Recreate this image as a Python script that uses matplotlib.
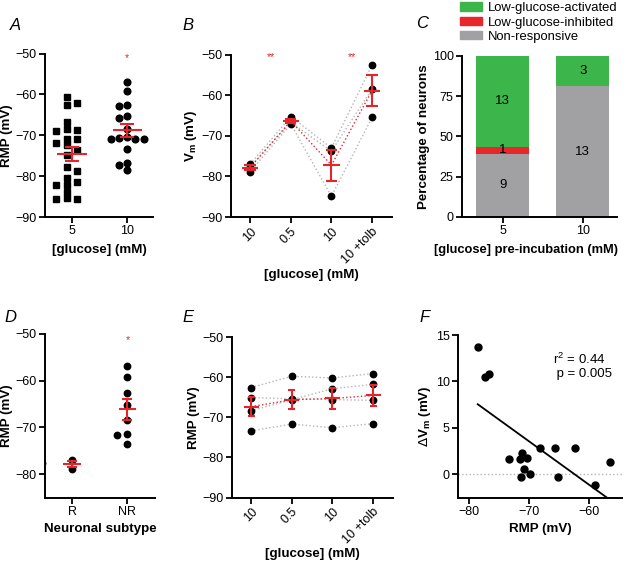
import numpy as np
import matplotlib
matplotlib.use("Agg")
import matplotlib.pyplot as plt
from matplotlib.patches import Patch

plt.rcParams['font.family'] = ['Liberation Sans', 'DejaVu Sans']
plt.rcParams['axes.linewidth'] = 1.4
plt.rcParams['xtick.major.width'] = 1.3
plt.rcParams['ytick.major.width'] = 1.3
plt.rcParams['xtick.major.size'] = 4
plt.rcParams['ytick.major.size'] = 4
plt.rcParams['xtick.labelsize'] = 9
plt.rcParams['ytick.labelsize'] = 9
plt.rcParams['axes.unicode_minus'] = True

RED = '#e4262c'
GRAY_LINE = '#b5b5b5'

# ---------------- data ----------------
# Panel A
a_categories = ['5', '10']
a_5mM = [-69.0, -72.0, -83.9, -85.5,
         -62.0, -68.6, -70.8, -78.7, -80.4, -82.1,
         -60.6, -62.7, -68.4, -70.8, -77.8, -82.1, -85.5,
         -66.8, -72.5, -81.4, -85.4, -73.6, -74.8]
a_10mM = [-56.9, -59.2, -62.9, -62.6, -65.3, -65.9, -68.4, -70.4,
          -71.0, -71.0, -71.0, -70.6, -73.4, -77.3, -76.9, -78.6]

# Panel B
b_conditions = ['10', '0.5', '10', '10 +tolb']
b_neuron1 = [-77.0, -65.3, -73.0, -52.6]
b_neuron2 = [-77.6, -66.7, -73.8, -58.5]
b_neuron3 = [-78.9, -67.1, -84.9, -65.5]

# Panel C
c_categories = ['5', '10']
c_nonresponsive = [9, 13]
c_inhibited = [1, 0]
c_activated = [13, 3]

# Panel D
d_categories = ['R', 'NR']
d_R = [-77.0, -77.6, -78.9]
d_NR = [-56.8, -59.2, -62.7, -65.3, -68.5, -71.7, -71.4, -73.5]

# Panel E
e_conditions = ['10', '0.5', '10', '10 +tolb']
e_neuron1 = [-62.6, -59.8, -60.2, -59.1]
e_neuron2 = [-65.1, -65.4, -65.6, -65.8]
e_neuron3 = [-68.4, -65.6, -62.9, -61.8]
e_neuron4 = [-73.4, -71.7, -72.6, -71.6]

# Panel F
f_rmp = [-78.6, -77.4, -76.7, -73.3, -71.2, -71.5, -70.3, -70.8,
         -71.3, -69.8, -68.2, -65.6, -65.1, -62.4, -58.9, -56.4]
f_dvm = [13.66, 10.5, 10.8, 1.65, 2.27, 1.62, 1.8, 0.6,
         -0.29, 0.0, 2.8, 2.8, -0.29, 2.8, -1.15, 1.33]


# ---------------- helpers ----------------
def sem(v):
    v = np.asarray(v, float)
    return v.std(ddof=1) / np.sqrt(len(v))


def swarm(values, center, step, dmin, half=False):
    vals = np.asarray(values, float)
    order = np.argsort(-vals)
    if half:
        cands = [s * (k + 0.5) for k in range(6) for s in (-1, 1)]
    else:
        cands = [0.0] + [s * k for k in range(1, 6) for s in (-1, 1)]
    placed = {}
    xs = np.zeros(len(vals))
    for i in order:
        for c in cands:
            col = placed.setdefault(c, [])
            if all(abs(vals[i] - y) >= dmin for y in col):
                col.append(vals[i])
                xs[i] = center + c * step
                break
    return xs


def mean_sem(ax, x, vals, wmean, wcap, lw=1.5, z=5):
    m = np.mean(vals)
    s = sem(vals)
    ax.hlines(m, x - wmean / 2, x + wmean / 2, color=RED, lw=lw, zorder=z)
    ax.vlines(x, m - s, m + s, color=RED, lw=lw, zorder=z)
    ax.hlines([m - s, m + s], x - wcap / 2, x + wcap / 2, color=RED, lw=lw, zorder=z)
    return m


def style(ax):
    for sp in ('top', 'right'):
        ax.spines[sp].set_visible(False)
    ax.tick_params(direction='out', pad=2)


W, H = 632, 561
fig = plt.figure(figsize=(W / 100, H / 100), dpi=100)


def add_ax(l, r, t, b):
    return fig.add_axes([l / W, 1 - b / H, (r - l) / W, (b - t) / H])


LBL = dict(fontsize=9.6, fontweight='bold')

# ---------------- Panel A ----------------
axA = add_ax(45, 153, 53.5, 217)
style(axA)
x5 = swarm(a_5mM, 0, 0.19, 1.5, half=True)
x10 = swarm(a_10mM, 1, 0.15, 1.5)
axA.plot(x5, a_5mM, 's', color='black', ms=4.6, zorder=3)
axA.plot(x10, a_10mM, 'o', color='black', ms=4.8, zorder=3)
mean_sem(axA, 0, a_5mM, 0.53, 0.24)
mean_sem(axA, 1, a_10mM, 0.53, 0.24)
axA.set_xlim(-0.49, 1.47)
axA.set_ylim(-90, -50)
axA.set_yticks([-90, -80, -70, -60, -50])
axA.set_xticks([0, 1], a_categories)
axA.text(1, -51.2, '*', color=RED, ha='center', va='center', fontsize=7.5)
axA.set_ylabel('RMP (mV)', labelpad=2, **LBL)
axA.set_xlabel('[glucose] (mM)', labelpad=5, **LBL)


def paired(ax, neurons, labels, wmean, wcap):
    xs = np.arange(len(labels))
    for n in neurons:
        ax.plot(xs, n, ls=':', color=GRAY_LINE, lw=1.0, zorder=2)
    for n in neurons:
        ax.plot(xs, n, 'o', color='black', ms=4.6, ls='none', zorder=3)
    arr = np.array(neurons)
    means = arr.mean(axis=0)
    ax.plot(xs, means, ls=':', color=RED, lw=1.0, zorder=4)
    for i in range(len(labels)):
        mean_sem(ax, xs[i], arr[:, i], wmean, wcap)
    ax.set_xticks(xs, labels, rotation=45, ha='right', rotation_mode='anchor')
    ax.set_xlim(-0.47, len(labels) - 0.51)


# ---------------- Panel B ----------------
axB = add_ax(231, 392, 54.5, 217)
style(axB)
paired(axB, [b_neuron1, b_neuron2, b_neuron3], b_conditions, 0.4, 0.28)
axB.set_ylim(-90, -50)
axB.set_yticks([-90, -80, -70, -60, -50])
axB.text(0.5, -50.6, '**', color=RED, ha='center', va='center', fontsize=7.5)
axB.text(2.5, -50.6, '**', color=RED, ha='center', va='center', fontsize=7.5)
axB.set_ylabel(r'V$_\mathregular{m}$ (mV)', labelpad=2, **LBL)
axB.set_xlabel('[glucose] (mM)', labelpad=2, **LBL)

# ---------------- Panel C ----------------
axC = add_ax(462, 617, 56, 217)
style(axC)
tot = np.array(c_nonresponsive) + np.array(c_inhibited) + np.array(c_activated)
p_non = 100 * np.array(c_nonresponsive) / tot
p_inh = 100 * np.array(c_inhibited) / tot
p_act = 100 * np.array(c_activated) / tot
xc = np.arange(len(c_categories))
GREEN, CRED, CGRAY = '#3cb54a', '#e8262b', '#a1a1a4'
axC.bar(xc, p_non, 0.66, color=CGRAY, label='Non-responsive')
axC.bar(xc, p_inh, 0.66, bottom=p_non, color=CRED, label='Low-glucose-inhibited')
axC.bar(xc, p_act, 0.66, bottom=p_non + p_inh, color=GREEN, label='Low-glucose-activated')
for i in range(len(xc)):
    for cnt, bot, h in ((c_nonresponsive[i], 0, p_non[i]),
                        (c_inhibited[i], p_non[i], p_inh[i]),
                        (c_activated[i], p_non[i] + p_inh[i], p_act[i])):
        if cnt > 0:
            axC.text(xc[i], bot + h / 2, str(cnt), ha='center', va='center', fontsize=9.5)
axC.set_xlim(-0.51, 1.43)
axC.set_ylim(0, 100)
axC.set_yticks([0, 25, 50, 75, 100])
axC.set_xticks(xc, c_categories)
axC.set_ylabel('Percentage of neurons', labelpad=2, **LBL)
axC.set_xlabel('[glucose] pre-incubation (mM)', fontsize=9.3, fontweight='bold')
axC.xaxis.set_label_coords((526 - 462) / 155, -(250 - 217) / 161)
axC.xaxis.label.set_va('center')
handles = [Patch(color=GREEN, label='Low-glucose-activated'),
           Patch(color=CRED, label='Low-glucose-inhibited'),
           Patch(color=CGRAY, label='Non-responsive')]
fig.legend(handles=handles, loc='upper left', bbox_to_anchor=(455 / W, 1 - (-3) / H),
           frameon=False, fontsize=9.4, handlelength=1.65, handleheight=0.6,
           labelspacing=0.18, handletextpad=0.45, borderaxespad=0)

# ---------------- Panel D ----------------
axD = add_ax(45, 155, 334, 497.5)
style(axD)
xr = swarm(d_R, 0, 0.55, 1.3)
xnr = swarm(d_NR, 1, 0.18, 1.3)
axD.plot(xr, d_R, 'o', color='black', ms=4.6, zorder=3)
axD.plot(xnr, d_NR, 'o', color='black', ms=4.6, zorder=3)
mean_sem(axD, 0, d_R, 0.32, 0.18)
mean_sem(axD, 1, d_NR, 0.32, 0.18)
axD.set_xlim(-0.49, 1.5)
axD.set_ylim(-85, -50)
axD.set_yticks([-80, -70, -60, -50])
axD.set_xticks([0, 1], d_categories)
axD.text(1, -51.2, '*', color=RED, ha='center', va='center', fontsize=7.5)
axD.set_ylabel('RMP (mV)', labelpad=2, **LBL)
axD.set_xlabel('Neuronal subtype', labelpad=4, **LBL)

# ---------------- Panel E ----------------
axE = add_ax(232, 393, 337, 497.5)
style(axE)
paired(axE, [e_neuron1, e_neuron2, e_neuron3, e_neuron4], e_conditions, 0.37, 0.17)
axE.set_ylim(-90, -50)
axE.set_yticks([-90, -80, -70, -60, -50])
axE.set_ylabel('RMP (mV)', labelpad=2, **LBL)
axE.set_xlabel('[glucose] (mM)', **LBL)
axE.xaxis.set_label_coords(0.5, -(554 - 497.5) / 160.5)
axE.xaxis.label.set_va('center')

# ---------------- Panel F ----------------
axF = add_ax(458, 621.7, 335, 497.5)
style(axF)
fx = np.array(f_rmp)
fy = np.array(f_dvm)
axF.axhline(0, color=GRAY_LINE, ls=':', lw=1.0, zorder=1)
axF.plot(fx, fy, 'o', color='black', ms=5, zorder=3)
slope, icpt = np.polyfit(fx, fy, 1)
lx = np.array([fx.min(), fx.max()])
axF.plot(lx, slope * lx + icpt, color='black', lw=1.3, zorder=2)
r2 = np.corrcoef(fx, fy)[0, 1] ** 2
axF.set_xlim(-81.9, -54.5)
axF.set_ylim(-2.5, 15)
axF.set_yticks([0, 5, 10, 15])
axF.set_xticks([-80, -70, -60])
axF.text(0.58, 0.81, 'r$^\\mathregular{2}$ = %.2f\n p = 0.005' % r2, transform=axF.transAxes,
         fontsize=9.5, ha='left', va='center', linespacing=1.15)
axF.set_ylabel(r'$\Delta$V$_\mathregular{m}$ (mV)', labelpad=2, **LBL)
axF.set_xlabel('RMP (mV)', labelpad=4, **LBL)

# ---------------- panel letters ----------------
for lab, (x, y) in {'A': (15, 25), 'B': (188, 25), 'C': (422, 23),
                    'D': (10, 318), 'E': (188, 318), 'F': (425, 318)}.items():
    fig.text(x / W, 1 - y / H, lab, fontsize=12, style='italic', ha='center', va='center')

fig.savefig('out.png', dpi=100)
